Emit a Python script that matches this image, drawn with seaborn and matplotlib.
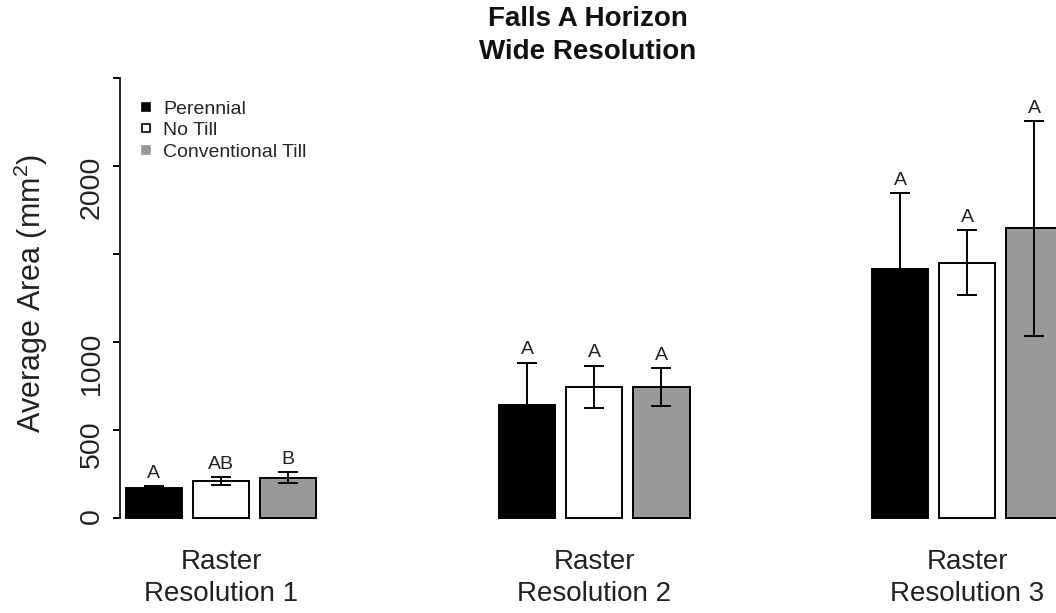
import numpy as np
import pandas as pd
import matplotlib
matplotlib.use("Agg")
import matplotlib.pyplot as plt
from matplotlib.lines import Line2D
import seaborn as sns

# Category labels and treatments
groups = ["Raster\nResolution 1", "Raster\nResolution 2", "Raster\nResolution 3"]
treatments = ["Perennial", "No Till", "Conventional Till"]

# Mean aggregate area (mm^2) per treatment, one value per raster resolution
perennial_mean = [170, 642, 1417]
no_till_mean = [211, 745, 1450]
conventional_mean = [230, 743, 1646]

# Error bar half-lengths
perennial_err = [10, 240, 429]
no_till_err = [22, 120, 185]
conventional_err = [31, 107, 610]

# Significance letters above each bar
perennial_letters = ["A", "A", "A"]
no_till_letters = ["AB", "A", "A"]
conventional_letters = ["B", "A", "A"]

# Y axis ticks (R drops overlapping labels)
y_ticks = [0, 500, 1000, 1500, 2000, 2500]
y_tick_labels = ["0", "500", "1000", "", "2000", ""]

colors = ["#000000", "#FFFFFF", "#999999"]

sns.set_style("ticks")
plt.rcParams["font.family"] = ["Liberation Sans", "DejaVu Sans"]
plt.rcParams["mathtext.fontset"] = "custom"
plt.rcParams["mathtext.rm"] = "Liberation Sans"
plt.rcParams["mathtext.it"] = "Liberation Sans:italic"
plt.rcParams["mathtext.bf"] = "Liberation Sans:bold"

means = [perennial_mean, no_till_mean, conventional_mean]
errs = [perennial_err, no_till_err, conventional_err]
letters = [perennial_letters, no_till_letters, conventional_letters]

df = pd.DataFrame({
    "group": groups * 3,
    "treatment": np.repeat(treatments, len(groups)),
    "area": perennial_mean + no_till_mean + conventional_mean,
})

fig = plt.figure(figsize=(10.56, 6.13), dpi=100)
ax = fig.add_axes([120 / 1056, 95 / 613, 936 / 1056, 440 / 613])

sns.barplot(
    data=df, x="group", y="area", hue="treatment",
    order=groups, hue_order=treatments, palette=colors,
    width=0.54, gap=0.16, edgecolor="black", linewidth=1.4,
    errorbar=None, legend=False, ax=ax,
)

bars = list(ax.patches)
for p in bars:
    p.set_clip_on(False)

n = len(groups)
for i in range(len(treatments)):
    sub = bars[i * n:(i + 1) * n]
    xs = [p.get_x() + p.get_width() / 2 for p in sub]
    ax.errorbar(xs, means[i], yerr=errs[i], fmt="none", ecolor="black",
                elinewidth=1.4, capsize=7, capthick=1.4, zorder=4,
                clip_on=False)
    for x, m, e, lab in zip(xs, means[i], errs[i], letters[i]):
        ax.annotate(lab, (x, m + e), xytext=(0, 6), textcoords="offset points",
                    ha="center", va="baseline", fontsize=14, color="#222222")

ax.set_xlim(-0.271, 2.238)
ax.set_ylim(0, 2500)
sns.despine(ax=ax, bottom=True)
ax.spines["left"].set_bounds(0, 2500)
ax.spines["left"].set_linewidth(1.4)

ax.set_yticks(y_ticks, y_tick_labels)
ax.tick_params(axis="y", length=5, width=1.4, labelsize=20.5, pad=6,
               labelrotation=90, colors="black")
for lbl in ax.get_yticklabels():
    lbl.set_color("#222222")
ax.tick_params(axis="x", length=0, labelsize=20, pad=22.5)
for lbl in ax.get_xticklabels():
    lbl.set_linespacing(1.27)
    lbl.set_color("#222222")
ax.set_xlabel("")

ax.set_ylabel("Average Area (mm$^{2}$)", fontsize=22, color="#222222")
ax.yaxis.set_label_coords(-0.0748, 0.51)

ax.set_title("Falls A Horizon\nWide Resolution", fontsize=20,
             fontweight="bold", pad=14, linespacing=1.32, color="#111111")

handles = []
for c in colors:
    handles.append(Line2D([], [], marker="s", linestyle="none", markersize=5.5,
                          markerfacecolor=c,
                          markeredgecolor="black" if c == "#FFFFFF" else c,
                          markeredgewidth=1.2))
ax.legend(handles, treatments, frameon=False, loc="upper left",
          bbox_to_anchor=(0.0174, 0.95), fontsize=14, handlelength=1.0,
          handletextpad=0.38, labelspacing=0.2, borderaxespad=0, borderpad=0)

fig.savefig("out.png", dpi=100)
